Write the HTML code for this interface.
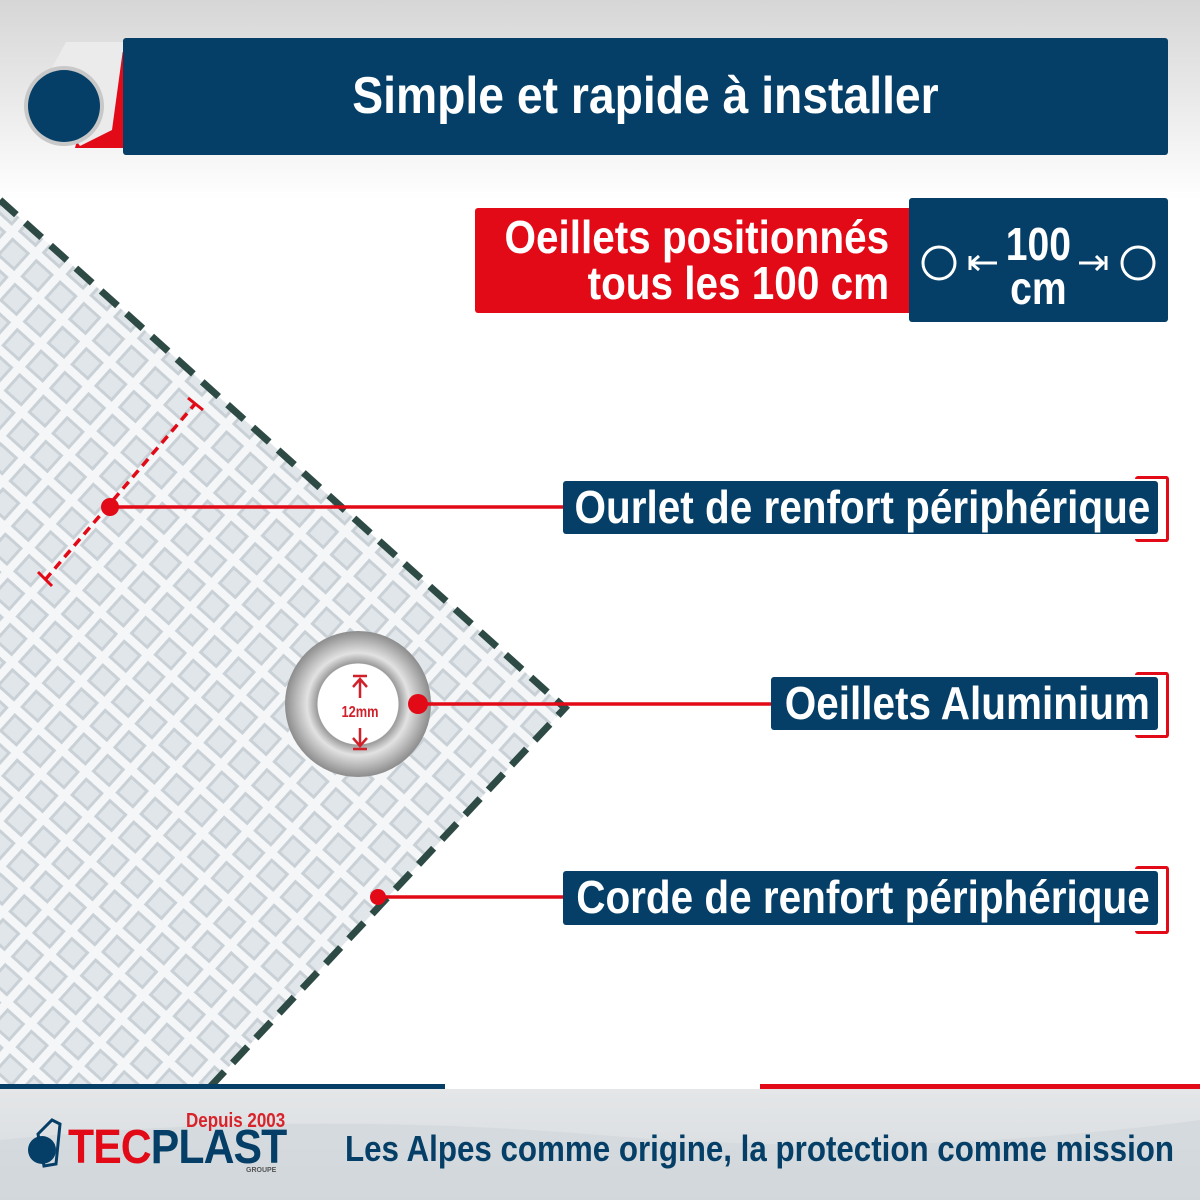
<!DOCTYPE html>
<html><head><meta charset="utf-8"><style>
body{margin:0}
#c{position:relative;width:1200px;height:1200px;overflow:hidden;background:linear-gradient(#d6d6d6 0,#eee 120px,#fff 200px,#fff 1080px);font-family:"Liberation Sans",sans-serif;font-weight:bold}
.t{position:absolute;color:#fff;white-space:nowrap}
.blue{position:absolute;background:#053f67;border-radius:3px}
.red{position:absolute;background:#e20a17;border-radius:3px}
.lbl{position:absolute;height:53px;background:#053f67;border-radius:3px;color:#fff;font-size:46px;line-height:53px;padding-right:8px;box-sizing:border-box;white-space:nowrap;display:flex;justify-content:flex-end}
.s{display:inline-block;transform-origin:right center;flex:none}
.br{position:absolute;border:3px solid #e20a17;border-left:none;border-radius:3px}
</style></head><body><div id="c">
<svg width="1200" height="1200" style="position:absolute;left:0;top:0">
<defs>
<pattern id="g" width="32" height="32" patternUnits="userSpaceOnUse" patternTransform="rotate(42)">
<rect width="32" height="32" fill="#c9d1d7"/>
<rect x="0" y="0" width="32" height="8" fill="#f4f6f8"/>
<rect x="0" y="0" width="8" height="32" fill="#f4f6f8"/>
<rect x="11" y="11" width="18" height="18" fill="#e1e6ea"/>
</pattern>
<linearGradient id="bg2" x1="0" y1="0" x2="0" y2="1"><stop offset="0" stop-color="#e4e6e8"/><stop offset="1" stop-color="#d5dadd"/></linearGradient>
<radialGradient id="ey"><stop offset="0.55" stop-color="#fff"/><stop offset="0.56" stop-color="#9a9a9a"/><stop offset="0.7" stop-color="#e2e2e2"/><stop offset="0.85" stop-color="#b8b8b8"/><stop offset="1" stop-color="#8c8c8c"/></radialGradient>
</defs>
<polygon points="0,200 565,708 210,1087 0,1087" fill="url(#g)"/>
<polyline points="0,200 565,708 210,1087" fill="none" stroke="#2d4a44" stroke-width="7" stroke-dasharray="22 12"/>
<rect x="0" y="1089" width="1200" height="111" fill="url(#bg2)"/>
<path d="M0 1140 Q300 1110 600 1135 T1200 1120 L1200 1200 0 1200Z" fill="#cfd6da" opacity="0.6"/>
<rect x="0" y="1084" width="445" height="5" fill="#053f67"/>
<rect x="760" y="1084" width="440" height="5" fill="#e20a17"/>
<line x1="45" y1="580" x2="195" y2="404" stroke="#e20a17" stroke-width="3.5" stroke-dasharray="9 6"/>
<line x1="38" y1="572" x2="52" y2="586" stroke="#e20a17" stroke-width="3"/>
<line x1="188" y1="398" x2="203" y2="410" stroke="#e20a17" stroke-width="3"/>
<circle cx="358" cy="704" r="73" fill="url(#ey)"/>
<circle cx="358" cy="704" r="40" fill="#fff"/>
<text x="360" y="717" font-family="Liberation Sans,sans-serif" font-weight="bold" font-size="16" fill="#d0202a" text-anchor="middle" transform="translate(360 0) scale(0.8 1) translate(-360 0)">12mm</text>
<path d="M360 698 V680 M353 687 L360 679 L367 687 M353 676 H367 M360 728 V745 M353 738 L360 746 L367 738 M353 749 H367" stroke="#d0202a" stroke-width="2.5" fill="none"/>
<g stroke="#e20a17" stroke-width="3.5"><line x1="110" y1="507" x2="565" y2="507"/><line x1="418" y1="704" x2="772" y2="704"/><line x1="378" y1="897" x2="565" y2="897"/></g>
<g fill="#e20a17"><circle cx="110" cy="507" r="9"/><circle cx="418" cy="704" r="10"/><circle cx="378" cy="897" r="8"/></g>
<path d="M100 52 L130 52 L130 148 L75 148 Z" fill="#e20a17"/>
<path d="M66 42 L124 42 L112 130 L80 146 L40 90 Z" fill="#ebebeb"/>
<circle cx="64" cy="106" r="40" fill="#c8c8c8"/>
<circle cx="64" cy="106" r="36" fill="#053f67"/>
<circle cx="42" cy="1150" r="14" fill="#053f67"/>
<path d="M38 1134 L52 1120 L60 1124 L56 1164 L44 1166Z" fill="none" stroke="#053f67" stroke-width="3"/>
</svg>
<div class="blue" style="left:123px;top:38px;width:1045px;height:117px"></div>
<div class="t" style="left:123px;top:38px;width:1045px;height:117px;line-height:117px;text-align:center;font-size:52px"><span class="s" style="transform:scaleX(0.89);transform-origin:center">Simple et rapide à installer</span></div>
<div class="red" style="left:475px;top:208px;width:440px;height:105px"></div>
<div class="t" style="left:475px;top:214px;width:414px;font-size:46px;line-height:46px;display:flex;justify-content:flex-end;text-align:right"><span class="s" style="transform:scaleX(0.88)">Oeillets positionnés<br>tous les 100 cm</span></div>
<div class="blue" style="left:909px;top:198px;width:259px;height:124px"></div>
<svg width="259" height="124" style="position:absolute;left:909px;top:198px"><g stroke="#fff" stroke-width="3" fill="none"><circle cx="30" cy="65" r="16"/><circle cx="229" cy="65" r="16"/><path d="M62 65 H88 M70 58 L62 65 L70 72 M61 58 V72 M170 65 H194 M187 58 L194 65 L187 72 M197 58 V72"/></g></svg>
<div class="t" style="left:990px;top:222px;width:96px;text-align:center;font-size:46px;line-height:44px"><span class="s" style="transform:scaleX(0.85);transform-origin:center">100<br>cm</span></div>
<div class="br" style="left:1135px;top:476px;width:31px;height:60px"></div>
<div class="lbl" style="left:563px;top:481px;width:595px"><span class="s" style="transform:scaleX(0.88)">Ourlet de renfort périphérique</span></div>
<div class="br" style="left:1135px;top:672px;width:31px;height:60px"></div>
<div class="lbl" style="left:771px;top:677px;width:387px"><span class="s" style="transform:scaleX(0.88)">Oeillets Aluminium</span></div>
<div class="br" style="left:1135px;top:866px;width:31px;height:62px"></div>
<div class="lbl" style="left:563px;top:871px;width:595px;height:54px"><span class="s" style="transform:scaleX(0.88)">Corde de renfort périphérique</span></div>
<div class="t" style="left:186px;top:1110px;font-size:20px;color:#d8232a"><span class="s" style="transform:scaleX(0.85);transform-origin:left center">Depuis 2003</span></div>
<div class="t" style="left:68px;top:1120px;font-size:48px;color:#e20a17;letter-spacing:-1px"><span class="s" style="transform:scaleX(0.89);transform-origin:left center">TEC<span style="color:#053f67">PLAST</span></span></div>
<div class="t" style="left:246px;top:1167px;font-size:7px;color:#555">GROUPE</div>
<div class="t" style="left:345px;top:1128px;font-size:36px;color:#053f67"><span class="s" style="transform:scaleX(0.87);transform-origin:left center">Les Alpes comme origine, la protection comme mission</span></div>
</div></body></html>
